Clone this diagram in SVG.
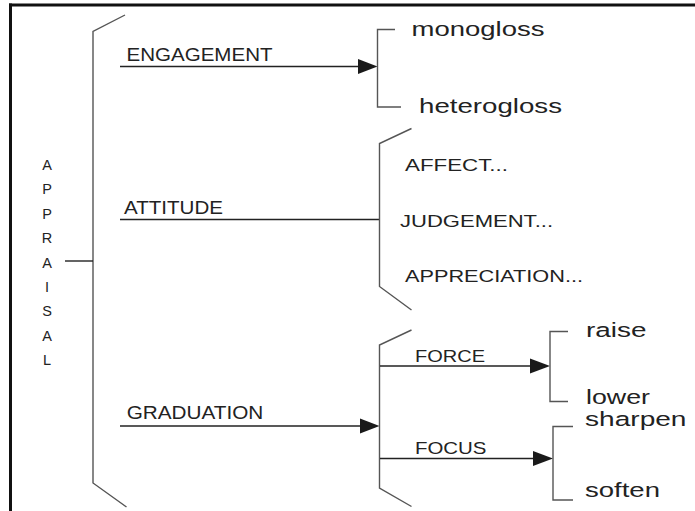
<svg xmlns="http://www.w3.org/2000/svg" width="695" height="511" viewBox="0 0 695 511">
<style>
.frame{stroke:#111;stroke-width:3;fill:none}
.brk{stroke:#555;stroke-width:1.4;fill:none}
.ln{stroke:#222;stroke-width:1.4;fill:none}
.ah{fill:#1a1a1a}
text{font-family:"Liberation Sans",Arial,sans-serif;fill:#222}
.cap{font-size:18.5px}
.sub{font-size:17px}
.lc{font-size:20.5px}
.ap{font-size:14.5px;text-anchor:middle}
</style>
<rect width="695" height="511" fill="#fff"/>
<g id="frame">
<line class="frame" x1="9" y1="5" x2="695" y2="5"/>
<line class="frame" x1="10.5" y1="3.5" x2="10.5" y2="511"/>
</g>
<g id="connectors">
<polyline class="brk" points="125,15 93,31.5 93,483 126.5,507"/>
<line class="ln" x1="65" y1="261" x2="93" y2="261"/>
<line class="ln" x1="120" y1="66.5" x2="360" y2="66.5"/>
<polygon class="ah" points="358,59 377.5,66.5 358,74"/>
<line class="ln" x1="120" y1="219.5" x2="380" y2="219.5"/>
<line class="ln" x1="120" y1="426" x2="362" y2="426"/>
<polygon class="ah" points="360,418.5 379.5,426 360,433.5"/>
<polyline class="brk" points="395,29.5 377.5,29.5 377.5,107 401,107"/>
<polyline class="brk" points="411.5,128.5 379.5,143.5 379.5,286.5 411.5,310"/>
<polyline class="brk" points="411.5,330 379.5,345 379.5,488 411.5,506.5"/>
<line class="ln" x1="380" y1="366" x2="532" y2="366"/>
<polygon class="ah" points="530,358.5 550,366 530,373.5"/>
<line class="ln" x1="380" y1="458.5" x2="535" y2="458.5"/>
<polygon class="ah" points="533,451 553,458.5 533,466"/>
<polyline class="brk" points="568,331.5 550,331.5 550,401.5 568,401.5"/>
<polyline class="brk" points="573,426.5 553,426.5 553,500 573,500"/>
</g>
<g id="appraisal">
<text class="ap" x="47" y="170">A</text>
<text class="ap" x="47" y="194.4">P</text>
<text class="ap" x="47" y="218.8">P</text>
<text class="ap" x="47" y="243.2">R</text>
<text class="ap" x="47" y="267.6">A</text>
<text class="ap" x="47" y="292">I</text>
<text class="ap" x="47" y="316.4">S</text>
<text class="ap" x="47" y="340.8">A</text>
<text class="ap" x="47" y="365.2">L</text>
</g>
<g id="engagement"><text class="cap" x="126.5" y="61" textLength="146" lengthAdjust="spacingAndGlyphs">ENGAGEMENT</text></g>
<g id="attitude"><text class="cap" x="124" y="213.5" textLength="99" lengthAdjust="spacingAndGlyphs">ATTITUDE</text></g>
<g id="graduation"><text class="cap" x="126.7" y="418.5" textLength="136.6" lengthAdjust="spacingAndGlyphs">GRADUATION</text></g>
<g id="monogloss"><text class="lc" x="411.5" y="36" textLength="133" lengthAdjust="spacingAndGlyphs">monogloss</text></g>
<g id="heterogloss"><text class="lc" x="419" y="113" textLength="143" lengthAdjust="spacingAndGlyphs">heterogloss</text></g>
<g id="affect"><text class="sub" x="405" y="170.5" textLength="103" lengthAdjust="spacingAndGlyphs">AFFECT...</text></g>
<g id="judgement"><text class="sub" x="400" y="226.5" textLength="153" lengthAdjust="spacingAndGlyphs">JUDGEMENT...</text></g>
<g id="appreciation"><text class="sub" x="405" y="281.5" textLength="178" lengthAdjust="spacingAndGlyphs">APPRECIATION...</text></g>
<g id="force"><text class="sub" x="415" y="361.5" textLength="70" lengthAdjust="spacingAndGlyphs">FORCE</text></g>
<g id="focus"><text class="sub" x="415" y="453.5" textLength="71.5" lengthAdjust="spacingAndGlyphs">FOCUS</text></g>
<g id="raise"><text class="lc" x="586" y="336.5" textLength="60.5" lengthAdjust="spacingAndGlyphs">raise</text></g>
<g id="lower"><text class="lc" x="586" y="403.5" textLength="64" lengthAdjust="spacingAndGlyphs">lower</text></g>
<g id="sharpen"><text class="lc" x="585" y="426" textLength="101.5" lengthAdjust="spacingAndGlyphs">sharpen</text></g>
<g id="soften"><text class="lc" x="585" y="496.5" textLength="75" lengthAdjust="spacingAndGlyphs">soften</text></g>
</svg>
